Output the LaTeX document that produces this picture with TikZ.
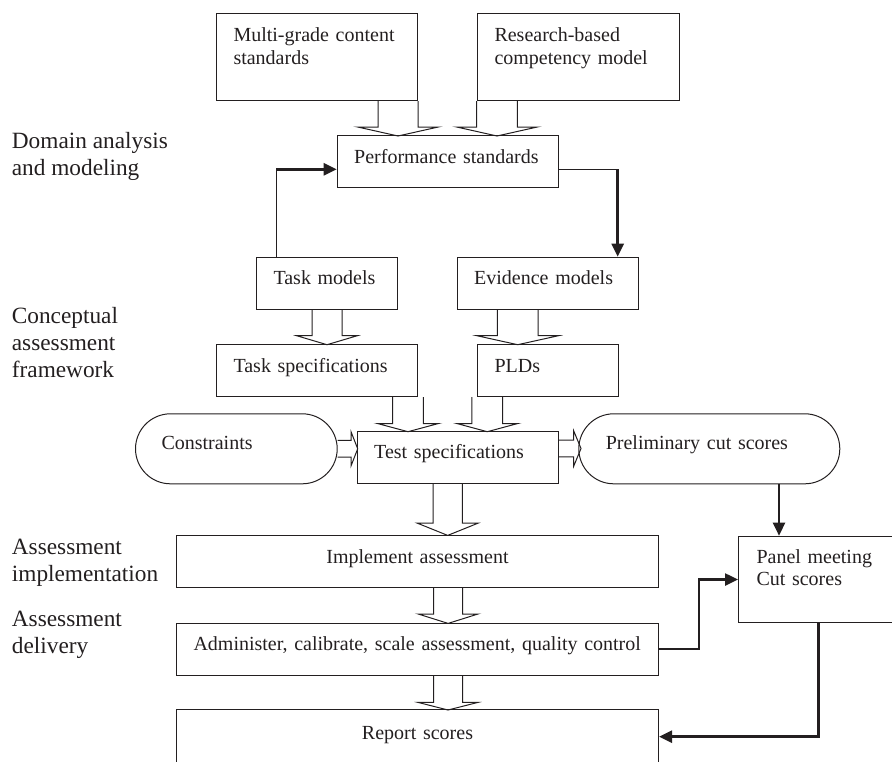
\documentclass[tikz,border=0pt]{standalone}
\usepackage{fontspec}
\setmainfont{Liberation Serif}
\usetikzlibrary{calc}
\usetikzlibrary{arrows.meta}
\definecolor{ink}{RGB}{35,31,32}
\newcommand{\boxfont}{\fontsize{20}{22.5}\selectfont}
\newcommand{\phasefont}{\fontsize{23.3}{27}\selectfont}
% hollow block arrows: anchor, offset, shaft width, shaft length, head width, head length
\newcommand{\fatdown}[6]{\draw[fatarrow] ($(#1)+({#2-#3/2},0)$) -- ++(0,#4) -- ++({(#3-#5)/2},0) -- ++({#5/2},#6) -- ++({#5/2},-#6) -- ++({(#3-#5)/2},0) -- ++(0,-#4);}
\newcommand{\fatright}[6]{\draw[fatarrow] ($(#1)+(0,{#2-#3/2})$) -- ++(#4,0) -- ++(0,{(#3-#5)/2}) -- ++(#6,{#5/2}) -- ++(-#6,{#5/2}) -- ++(0,{(#3-#5)/2}) -- ++(-#4,0);}

\begin{document}
\begin{tikzpicture}[x=1pt,y=-1pt,
  box/.style={draw=ink, line width=1pt, inner ysep=0pt, inner xsep=17pt, align=left, text=ink, font=\boxfont, anchor=north west},
  single/.style={text height=27.5pt, text depth=24.5pt},
  phase/.style={font=\phasefont, text=ink, align=left, anchor=west, inner sep=0pt},
  fatarrow/.style={draw=ink, line width=1pt},
  link/.style={draw=ink, line width=2.5pt, -{Triangle[length=13pt,width=12pt]}},
  thinlink/.style={draw=ink, line width=1pt}]
\useasboundingbox (0,0) rectangle (892,761);
\clip (0,0) rectangle (892,761);

% phase labels
\node[phase] (dam) at (11.7,156.5) {Domain analysis\\and modeling};
\node[phase] (caf) at (11.7,343) {Conceptual\\assessment\\framework};
\node[phase] (aimp) at (11.7,563) {Assessment\\implementation};
\node[phase] (adel) at (11.7,634.5) {Assessment\\delivery};

% boxes
\node[box, text width=167pt, text height=28.3pt, text depth=59pt] (mgcs) at (216,12.7) {Multi-grade content\\standards};
\node[box, text width=168pt, text height=28.3pt, text depth=59pt] (rbcm) at (477,12.7) {Research-based\\competency model};
\node[box, single, text width=187pt] (perf) at (336.7,135) {Performance standards};
\node[box, single, text width=107pt] (tmod) at (256,256.7) {Task models};
\node[box, single, text width=147pt] (emod) at (456.7,256.7) {Evidence models};
\node[box, single, text width=167pt] (tspec) at (216,344) {Task specifications};
\node[box, single, text width=107pt] (plds) at (477,344) {PLDs};
\node[box, rounded corners=35pt, inner xsep=26pt, text width=149.7pt, text height=35.4pt, text depth=34.6pt] (cons) at (135,413.3) {Constraints};
\node[box, single, text width=167pt] (tests) at (356.7,430.7) {Test specifications};
\node[box, rounded corners=35pt, inner xsep=27pt, text width=207pt, text height=35.7pt, text depth=34.3pt] (prelim) at (578.3,413.3) {Preliminary cut scores};
\node[box, single, align=center, text width=448pt] (impl) at (176,535) {Implement assessment};
\node[box, single, text width=448pt] (admin) at (176,622.7) {Administer, calibrate, scale assessment, quality control};
\node[box, align=center, text width=448pt, text height=29.4pt, text depth=90pt] (report) at (176,709.3) {Report scores};
\node[box, inner xsep=18pt, text width=164pt, text height=27pt, text depth=59.6pt] (panel) at (738,535.7) {Panel meeting\\Cut scores};

% hollow arrows
\fatdown{mgcs.south east}{-20}{40}{26}{80.6}{9}
\fatdown{rbcm.south west}{20}{40.6}{26}{80.6}{9}
\fatdown{tmod.south}{0}{30}{26}{60.7}{9}
\fatdown{emod.south}{-30}{40.6}{26}{81.6}{9}
\fatdown{tspec.south east}{-10}{30.6}{26.5}{61}{8.2}
\fatdown{plds.south west}{10.3}{30.7}{26.5}{61}{8.2}
\fatdown{tests.south}{-10}{29.4}{39.4}{61}{12.3}
\fatdown{impl.south}{30.6}{29}{26}{59.8}{9.4}
\fatdown{admin.south}{30.5}{29}{26.7}{59.8}{7.6}
\fatright{cons.east}{0}{16.7}{13.3}{34.3}{6.7}
\fatright{tests.east}{-8.7}{16.7}{15}{35.3}{7.3}

% solid connectors
\coordinate (tmup) at (276,169.3);
\draw[thinlink] (tmup |- tmod.north) -- (tmup);
\draw[link] (tmup) -- (tmup -| perf.west);
\coordinate (emdown) at (617.7,169.3);
\draw[thinlink] (emdown -| perf.east) -- (emdown);
\draw[link] (emdown) -- (emdown |- emod.north);
\coordinate (pcdown) at (779,0);
\draw[link] (pcdown |- prelim.south) -- (pcdown |- panel.north);
\draw[link] (admin.east) -- ++(40,0) |- (panel.west);
\coordinate (rsback) at (818.7,736.7);
\draw[link] (rsback |- panel.south) -- (rsback) -- (rsback -| report.east);

\end{tikzpicture}
\end{document}
